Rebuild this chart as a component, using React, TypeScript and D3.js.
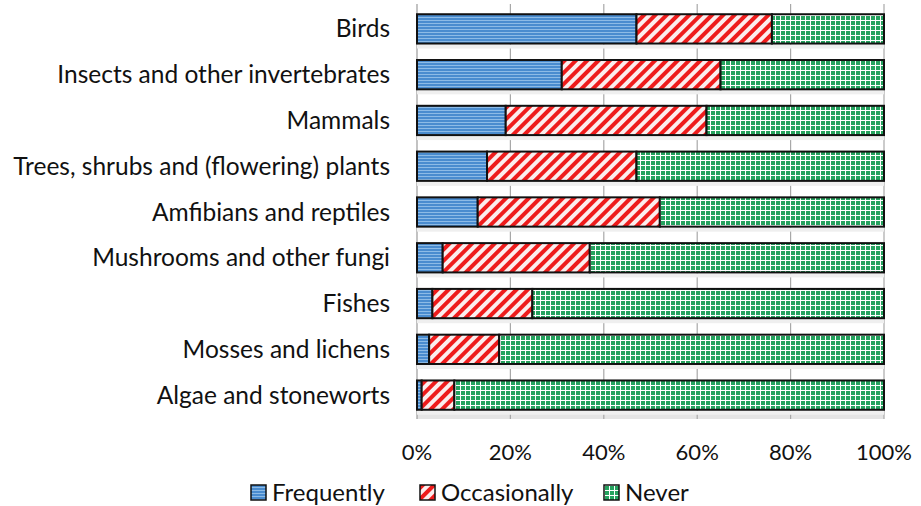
import React, { useEffect, useRef } from 'react';
import * as d3 from 'd3';

const categories = [
  'Birds',
  'Insects and other invertebrates',
  'Mammals',
  'Trees, shrubs and (flowering) plants',
  'Amfibians and reptiles',
  'Mushrooms and other fungi',
  'Fishes',
  'Mosses and lichens',
  'Algae and stoneworts',
];
const frequently = [47, 31, 19, 15, 13, 5.5, 3.3, 2.6, 1];
const occasionally = [29, 34, 43, 32, 39, 31.5, 21.4, 15, 7];
const never = [24, 35, 38, 53, 48, 63, 75.3, 82.4, 92];
const seriesNames = ['Frequently', 'Occasionally', 'Never'];
const xTicks = [0, 20, 40, 60, 80, 100];

const fills = ['url(#pat-freq)', 'url(#pat-occ)', 'url(#pat-never)'];
const FONT = 'Lato, "Open Sans", sans-serif';

const App: React.FC = () => {
  const svgRef = useRef<SVGSVGElement>(null);

  useEffect(() => {
    if (!svgRef.current) return;
    const svg = d3.select(svgRef.current);
    svg.selectAll('*').remove();

    const defs = svg.append('defs');

    // blue, thin horizontal lines
    const pf = defs.append('pattern').attr('id', 'pat-freq')
      .attr('patternUnits', 'userSpaceOnUse').attr('width', 4).attr('height', 3);
    pf.append('rect').attr('width', 4).attr('height', 3).attr('fill', '#4a8ccf');
    pf.append('rect').attr('y', 2).attr('width', 4).attr('height', 1).attr('fill', '#8dbbe6');

    // red diagonal hatch
    const po = defs.append('pattern').attr('id', 'pat-occ')
      .attr('patternUnits', 'userSpaceOnUse').attr('width', 8).attr('height', 8)
      .attr('patternTransform', 'rotate(45)');
    po.append('rect').attr('width', 8).attr('height', 8).attr('fill', '#fbeeee');
    po.append('rect').attr('width', 4).attr('height', 8).attr('fill', '#ee1c1c');

    // green grid
    const pn = defs.append('pattern').attr('id', 'pat-never')
      .attr('patternUnits', 'userSpaceOnUse').attr('width', 5).attr('height', 5);
    pn.append('rect').attr('width', 5).attr('height', 5).attr('fill', '#ffffff');
    pn.append('rect').attr('x', 1).attr('y', 1).attr('width', 4).attr('height', 4).attr('fill', '#25a35f');

    const x = d3.scaleLinear().domain([0, 100]).range([417, 884]);
    const y = d3.scaleBand().domain(categories).range([6, 418]).paddingInner(0.36).paddingOuter(0.18);

    // floor strip
    svg.append('rect').attr('x', x(0)).attr('y', 411).attr('width', x(100) - x(0)).attr('height', 8)
      .attr('fill', '#e4e4e4');

    // gridlines
    svg.append('g').selectAll('line').data(xTicks).enter().append('line')
      .attr('x1', d => x(d)).attr('x2', d => x(d))
      .attr('y1', 4).attr('y2', 419)
      .attr('stroke', d => (d === 0 ? '#9a9a9a' : '#a8a8a8')).attr('stroke-width', 1.2);

    // subtle shadow strips between bars
    svg.append('g').selectAll('rect').data(categories).enter().append('rect')
      .attr('x', x(0)).attr('y', d => y(d)! + y.bandwidth() + 1)
      .attr('width', x(100) - x(0)).attr('height', 4)
      .attr('fill', '#efefef');

    const stacked = categories.map((c, i) => {
      const vals = [frequently[i], occasionally[i], never[i]];
      let acc = 0;
      return vals.map((v, k) => {
        const s = { cat: c, k, x0: acc, x1: acc + v };
        acc += v;
        return s;
      });
    }).flat();

    svg.append('g').selectAll('rect').data(stacked).enter().append('rect')
      .attr('x', d => x(d.x0))
      .attr('y', d => y(d.cat)!)
      .attr('width', d => x(Math.min(d.x1, 100)) - x(d.x0))
      .attr('height', y.bandwidth())
      .attr('fill', d => fills[d.k])
      .attr('stroke', '#111')
      .attr('stroke-width', 2);

    // category labels
    svg.append('g').selectAll('text').data(categories).enter().append('text')
      .attr('x', 390).attr('y', d => y(d)! + y.bandwidth() / 2)
      .attr('dy', '0.35em').attr('text-anchor', 'end')
      .attr('font-family', FONT).attr('font-size', 24.5).attr('fill', '#111')
      .text(d => d);

    // x tick labels
    svg.append('g').selectAll('text').data(xTicks).enter().append('text')
      .attr('x', d => x(d)).attr('y', 460).attr('text-anchor', 'middle')
      .attr('font-family', FONT).attr('font-size', 22).attr('fill', '#111')
      .text(d => `${d}%`);

    // legend
    const legendX = [251, 420, 604];
    const lg = svg.append('g').selectAll('g').data(seriesNames).enter().append('g')
      .attr('transform', (_, i) => `translate(${legendX[i]},485)`);
    lg.append('rect').attr('width', 15).attr('height', 15)
      .attr('fill', (_, i) => fills[i]).attr('stroke', '#111').attr('stroke-width', 1.5);
    lg.append('text').attr('x', 21).attr('y', 8).attr('dy', '0.35em')
      .attr('font-family', FONT).attr('font-size', 24).attr('fill', '#111')
      .text(d => d);
  }, []);

  return (
    <svg ref={svgRef} width={921} height={506}
      style={{ position: 'absolute', left: 0, top: 0, background: '#fff' }} />
  );
};

export default App;
